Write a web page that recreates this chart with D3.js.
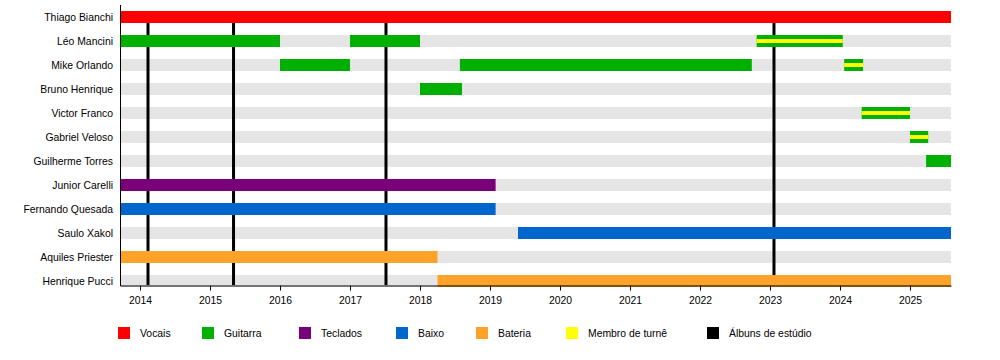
<!DOCTYPE html>
<html><head><meta charset="utf-8">
<script src="https://cdn.jsdelivr.net/npm/d3@7"></script>
<style>body{margin:0;background:#fff}svg{display:block;font-family:"Liberation Sans",Arial,sans-serif}</style>
</head><body>
<script>
const members = ["Thiago Bianchi","Léo Mancini","Mike Orlando","Bruno Henrique","Victor Franco","Gabriel Veloso","Guilherme Torres","Junior Carelli","Fernando Quesada","Saulo Xakol","Aquiles Priester","Henrique Pucci"];
const periodStart = 2013.714, periodEnd = 2025.586;
const roles = ["Vocais","Guitarra","Teclados","Baixo","Bateria","Membro de turnê","Álbuns de estúdio"];
const roleColors = ["#ff0000","#00b000","#780078","#0066cc","#ffa22a","#ffff00","#000000"];
// [member, role, start, end]
const spans = [
  ["Thiago Bianchi","Vocais",2013.714,2025.586],
  ["Léo Mancini","Guitarra",2013.714,2016.0],
  ["Léo Mancini","Guitarra",2017.0,2018.0],
  ["Mike Orlando","Guitarra",2016.0,2017.0],
  ["Mike Orlando","Guitarra",2018.57,2022.74],
  ["Bruno Henrique","Guitarra",2018.0,2018.6],
  ["Guilherme Torres","Guitarra",2025.23,2025.586],
  ["Junior Carelli","Teclados",2013.714,2019.08],
  ["Fernando Quesada","Baixo",2013.714,2019.08],
  ["Saulo Xakol","Baixo",2019.4,2025.586],
  ["Aquiles Priester","Bateria",2013.714,2018.25],
  ["Henrique Pucci","Bateria",2018.25,2025.586]
];
// tour members: [member, start, end]
const tours = [
  ["Léo Mancini",2022.81,2024.04],
  ["Mike Orlando",2024.06,2024.33],
  ["Victor Franco",2024.31,2025.0],
  ["Gabriel Veloso",2025.0,2025.26]
];
const albums = [2014.114,2015.336,2017.514,2023.057];
const tickYears = [2014,2015,2016,2017,2018,2019,2020,2021,2022,2023,2024,2025];

const W=1000,H=360, FS=10.4;
const svg=d3.select("body").append("svg").attr("width",W).attr("height",H);
const x=d3.scaleLinear().domain([periodStart,periodEnd]).range([120,951]);
const y=d3.scaleBand().domain(members).range([5,293]);
const color=d3.scaleOrdinal().domain(roles).range(roleColors);
const bh=12;
const cy=m=>y(m)+y.bandwidth()/2;

// background gray bars
svg.append("g").selectAll("rect").data(members).join("rect")
  .attr("x",x(periodStart)+1).attr("width",x(periodEnd)-x(periodStart)-1)
  .attr("y",d=>cy(d)-bh/2).attr("height",bh).attr("fill","#e5e5e5");

// album lines
svg.append("g").selectAll("line").data(albums).join("line")
  .attr("x1",d=>x(d)).attr("x2",d=>x(d))
  .attr("y1",cy(members[0])+bh/2).attr("y2",285)
  .attr("stroke","#000").attr("stroke-width",3);

// role bars
svg.append("g").selectAll("rect").data(spans).join("rect")
  .attr("x",d=>x(d[2])).attr("width",d=>x(d[3])-x(d[2]))
  .attr("y",d=>cy(d[0])-bh/2).attr("height",bh).attr("fill",d=>color(d[1]));

// tour bars
const tg=svg.append("g");
tg.selectAll("rect.o").data(tours).join("rect").attr("class","o")
  .attr("x",d=>x(d[1])).attr("width",d=>x(d[2])-x(d[1]))
  .attr("y",d=>cy(d[0])-bh/2).attr("height",bh).attr("fill",color("Guitarra"));
tg.selectAll("rect.i").data(tours).join("rect").attr("class","i")
  .attr("x",d=>x(d[1])).attr("width",d=>x(d[2])-x(d[1]))
  .attr("y",d=>cy(d[0])-2).attr("height",4).attr("fill",color("Membro de turnê"));

// left axis line
svg.append("line").attr("x1",120.5).attr("x2",120.5).attr("y1",5).attr("y2",286).attr("stroke","#000");

// bottom axis
const xa=d3.axisBottom(x).tickValues(tickYears).tickFormat(d3.format("d")).tickSize(5).tickSizeOuter(0);
const ag=svg.append("g").attr("transform","translate(0,285.5)").call(xa);
ag.select(".domain").attr("stroke","#000");
ag.selectAll("text").attr("font-size",FS).attr("font-family","Liberation Sans, Arial, sans-serif").attr("fill","#000").attr("dy","1.05em");

// member labels
svg.append("g").selectAll("text").data(members).join("text")
  .attr("x",113).attr("y",d=>cy(d)).attr("dy","0.35em").attr("text-anchor","end")
  .attr("font-size",FS).attr("fill","#000").text(d=>d);

// legend
const legendX=[118,202,299,396,476,566,707];
const lg=svg.append("g").selectAll("g").data(roles).join("g")
  .attr("transform",(d,i)=>`translate(${legendX[i]},327)`);
lg.append("rect").attr("width",12).attr("height",12).attr("fill",d=>color(d));
lg.append("text").attr("x",22).attr("y",6).attr("dy","0.35em").attr("font-size",FS).attr("fill","#000").text(d=>d);
</script>
</body></html>
